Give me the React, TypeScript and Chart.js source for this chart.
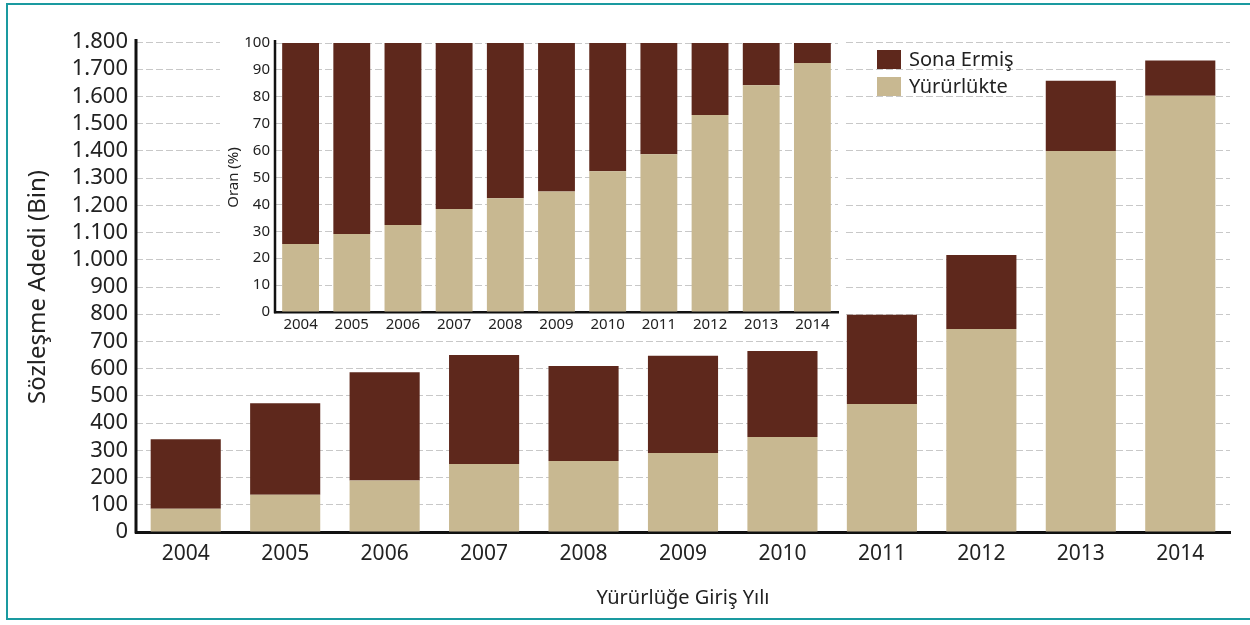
import React, { useEffect, useRef } from "react";
import { Chart, registerables } from "chart.js";

Chart.register(...registerables);

const years = ["2004", "2005", "2006", "2007", "2008", "2009", "2010", "2011", "2012", "2013", "2014"];
// Main chart (thousands of contracts)
const yururlukte = [85, 137, 189, 250, 261, 290, 349, 470, 746, 1400, 1603];
const sonaErmis = [256, 336, 398, 400, 349, 357, 316, 328, 272, 258, 129];
// Inset chart (%)
const yururluktePct = [25.3, 29.0, 32.3, 38.3, 42.3, 44.8, 52.3, 58.6, 73.2, 84.3, 92.6];
const sonaErmisPct = [74.7, 71.0, 67.7, 61.7, 57.7, 55.2, 47.7, 41.4, 26.8, 15.7, 7.4];

const BROWN = "#5E281C";
const TAN = "#C8B891";
const FONT = "'Noto Sans', 'DejaVu Sans', sans-serif";
const TEXT = "#222222";
const GRID = "#c8c8c8";
const AXIS = "#111111";

function fmt(v: number): string {
  if (v >= 1000) {
    const t = Math.floor(v / 1000);
    const r = String(v % 1000).padStart(3, "0");
    return `${t}.${r}`;
  }
  return String(v);
}

const makeAxisPlugin = (id: string, width: number) => ({
  id,
  afterDraw(chart: any) {
    const ctx = chart.ctx as CanvasRenderingContext2D;
    const y = chart.scales.y;
    const x = y.right;
    ctx.save();
    ctx.setLineDash([]);
    ctx.globalAlpha = 1;
    ctx.strokeStyle = AXIS;
    ctx.lineWidth = width;
    ctx.beginPath();
    ctx.moveTo(x, y.top - 3);
    ctx.lineTo(x, y.bottom + width / 2);
    ctx.stroke();
    ctx.restore();
  },
});

export default function App() {
  const mainRef = useRef<HTMLCanvasElement>(null);
  const insetRef = useRef<HTMLCanvasElement>(null);

  useEffect(() => {
    const main = new Chart(mainRef.current!, {
      type: "bar",
      data: {
        labels: years,
        datasets: [
          { label: "Yürürlükte", data: yururlukte, backgroundColor: TAN, barPercentage: 0.705, categoryPercentage: 1 },
          { label: "Sona Ermiş", data: sonaErmis, backgroundColor: BROWN, barPercentage: 0.705, categoryPercentage: 1 },
        ],
      },
      plugins: [makeAxisPlugin("mainAxisLine", 3)],
      options: {
        animation: false,
        responsive: false,
        maintainAspectRatio: false,
        layout: { padding: { left: 0, right: 20, top: 42, bottom: 0 } },
        plugins: { legend: { display: false }, tooltip: { enabled: false } },
        scales: {
          x: {
            stacked: true,
            grid: { display: false, drawTicks: false },
            border: { display: true, color: AXIS, width: 3 },
            ticks: { color: TEXT, font: { family: FONT, size: 21 }, padding: 9, maxRotation: 0 },
            title: {
              display: true,
              text: "Yürürlüğe Giriş Yılı",
              color: TEXT,
              font: { family: FONT, size: 20 },
              padding: { top: 0, bottom: 15 },
            },
            afterFit: (s: any) => {
              s.height = 93;
            },
          },
          y: {
            stacked: true,
            min: 0,
            max: 1800,
            ticks: {
              stepSize: 100,
              autoSkip: false,
              color: TEXT,
              font: { family: FONT, size: 22 },
              padding: 8,
              callback: (v: any) => fmt(Number(v)),
            },
            grid: { color: GRID, lineWidth: 1, drawTicks: false },
            border: { display: false, dash: [7, 3] },
            title: {
              display: true,
              text: "Sözleşme Adedi (Bin)",
              color: TEXT,
              font: { family: FONT, size: 24 },
              padding: { top: 24, bottom: 0 },
            },
            afterFit: (s: any) => {
              s.width = 136;
            },
          },
        },
      },
    });

    const inset = new Chart(insetRef.current!, {
      type: "bar",
      data: {
        labels: years,
        datasets: [
          { label: "Yürürlükte", data: yururluktePct, backgroundColor: TAN, barPercentage: 0.72, categoryPercentage: 1 },
          { label: "Sona Ermiş", data: sonaErmisPct, backgroundColor: BROWN, barPercentage: 0.72, categoryPercentage: 1 },
        ],
      },
      plugins: [makeAxisPlugin("insetAxisLine", 2.5)],
      options: {
        animation: false,
        responsive: false,
        maintainAspectRatio: false,
        layout: { padding: { left: 0, right: 5, top: 15, bottom: 0 } },
        plugins: { legend: { display: false }, tooltip: { enabled: false } },
        scales: {
          x: {
            stacked: true,
            grid: { display: false, drawTicks: false },
            border: { display: true, color: AXIS, width: 2.5 },
            ticks: { color: TEXT, font: { family: FONT, size: 15 }, padding: 4, maxRotation: 0, autoSkip: false },
            afterFit: (s: any) => {
              s.height = 27;
            },
          },
          y: {
            stacked: true,
            min: 0,
            max: 100,
            ticks: { stepSize: 10, autoSkip: false, color: TEXT, font: { family: FONT, size: 15 }, padding: 5 },
            grid: { color: GRID, lineWidth: 1, drawTicks: false },
            border: { display: false, dash: [7, 3] },
            title: {
              display: true,
              text: "Oran (%)",
              color: TEXT,
              font: { family: FONT, size: 15 },
              padding: { top: 5, bottom: 0 },
            },
            afterFit: (s: any) => {
              s.width = 55;
            },
          },
        },
      },
    });

    return () => {
      main.destroy();
      inset.destroy();
    };
  }, []);

  const legendItem = (color: string, text: string, top: number) => (
    <div style={{ position: "absolute", left: 877, top, display: "flex", alignItems: "center", height: 20 }}>
      <div style={{ width: 24, height: 19, background: color }} />
      <span style={{ marginLeft: 8, fontFamily: FONT, fontSize: 20, color: TEXT, lineHeight: "20px" }}>{text}</span>
    </div>
  );

  return (
    <div style={{ position: "fixed", left: 0, top: 0, width: 1250, height: 625, background: "#fff", overflow: "hidden" }}>
      <div
        style={{
          position: "absolute",
          left: 6,
          top: 3,
          width: 1300,
          height: 617,
          border: "2px solid #1a9aa0",
          boxSizing: "border-box",
        }}
      />
      <canvas ref={mainRef} width={1250} height={625} style={{ position: "absolute", left: 0, top: 0 }} />
      <canvas
        ref={insetRef}
        width={623}
        height={311}
        style={{ position: "absolute", left: 220, top: 28, background: "#fff" }}
      />
      {legendItem(BROWN, "Sona Ermiş", 49)}
      {legendItem(TAN, "Yürürlükte", 76)}
    </div>
  );
}
